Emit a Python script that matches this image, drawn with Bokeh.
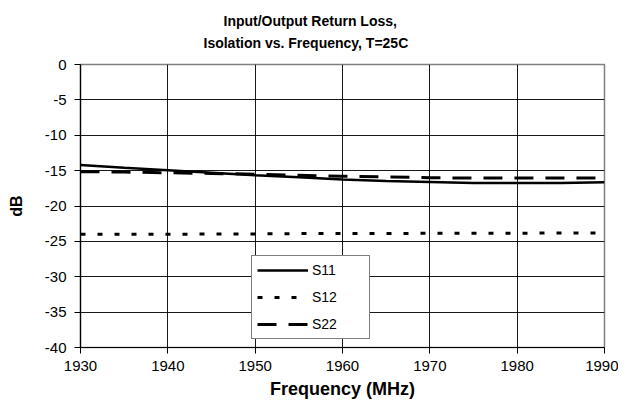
from bokeh.plotting import figure
from bokeh.models import Range1d, FixedTicker, Legend, LegendItem, Title, PrintfTickFormatter
from bokeh.embed import file_html
from bokeh.resources import INLINE

# ---- data ----
freq = [1930, 1935, 1940, 1945, 1950, 1955, 1960, 1965, 1970, 1975, 1980, 1985, 1990]
s11 = [-14.2, -14.6, -14.95, -15.3, -15.65, -15.95, -16.25, -16.45, -16.6, -16.75, -16.75, -16.75, -16.65]
s22 = [-15.15, -15.2, -15.3, -15.4, -15.5, -15.65, -15.8, -15.9, -16.0, -16.05, -16.05, -16.05, -16.05]
s12 = [-24.0, -24.0, -24.0, -23.95, -23.95, -23.9, -23.9, -23.9, -23.85, -23.85, -23.85, -23.8, -23.8]
x_ticks = [1930, 1940, 1950, 1960, 1970, 1980, 1990]
y_ticks = [0, -5, -10, -15, -20, -25, -30, -35, -40]
title_lines = ["Input/Output Return Loss,", "Isolation vs. Frequency, T=25C"]

FONT = "Liberation Sans"

p = figure(width=618, height=401, output_backend="svg", toolbar_location=None,
           x_range=Range1d(1930, 1990), y_range=Range1d(-40, 0),
           min_border_left=80, min_border_right=14, min_border_top=64, min_border_bottom=51)
p.background_fill_color = "white"
p.border_fill_color = "white"
p.outline_line_color = "#808080"
p.outline_line_width = 1.5

# two-line title (second line is nearest the plot)
p.add_layout(Title(text=title_lines[1], align="left", offset=123, standoff=27,
                   text_font=FONT, text_font_size="14px", text_font_style="bold",
                   text_color="black"), "above")
p.add_layout(Title(text=title_lines[0], align="left", offset=143, standoff=-19,
                   text_font=FONT, text_font_size="14px", text_font_style="bold",
                   text_color="black"), "above")

for ax in (p.xaxis[0], p.yaxis[0]):
    ax.major_label_text_font = FONT
    ax.major_label_text_font_size = "15px"
    ax.major_label_text_color = "black"
    ax.axis_line_color = "black"
    ax.axis_line_width = 1.2
    ax.major_tick_line_color = "black"
    ax.major_tick_out = 6
    ax.major_tick_in = 0
    ax.minor_tick_line_color = None
    ax.axis_label_text_font = FONT
    ax.axis_label_text_font_style = "bold"
    ax.axis_label_text_color = "black"

p.xaxis.ticker = FixedTicker(ticks=x_ticks)
p.yaxis.ticker = FixedTicker(ticks=y_ticks)
p.yaxis.formatter = PrintfTickFormatter(format="%d")
p.xaxis.axis_label = "Frequency (MHz)"
p.yaxis.axis_label = "dB"
p.xaxis.axis_label_text_font_size = "18px"
p.yaxis.axis_label_text_font_size = "16px"
p.xaxis.major_label_standoff = 7
p.yaxis.major_label_standoff = 8
p.xaxis.axis_label_standoff = 5
p.yaxis.axis_label_standoff = 17

p.xgrid.ticker = FixedTicker(ticks=x_ticks)
p.ygrid.ticker = FixedTicker(ticks=y_ticks)
p.grid.grid_line_color = "black"
p.grid.grid_line_width = 1
p.grid.grid_line_alpha = 0.9

r11 = p.line(freq, s11, line_color="black", line_width=2.5)
r12 = p.line(freq, s12, line_color="black", line_width=3, line_dash="5 12")
r22 = p.line(freq, s22, line_color="black", line_width=3, line_dash="19 12")

legend = Legend(items=[LegendItem(label="S11", renderers=[r11]),
                       LegendItem(label="S12", renderers=[r12]),
                       LegendItem(label="S22", renderers=[r22])],
                location=(171, 8), margin=0, padding=5,
                glyph_width=51, glyph_height=18, label_height=18, label_width=52,
                spacing=9, label_standoff=4,
                label_text_font=FONT, label_text_font_size="14px", label_text_color="black",
                border_line_color="black", border_line_width=1,
                background_fill_color="white", background_fill_alpha=1)
p.add_layout(legend, "center")

open("out.html", "w").write(file_html(p, INLINE))
